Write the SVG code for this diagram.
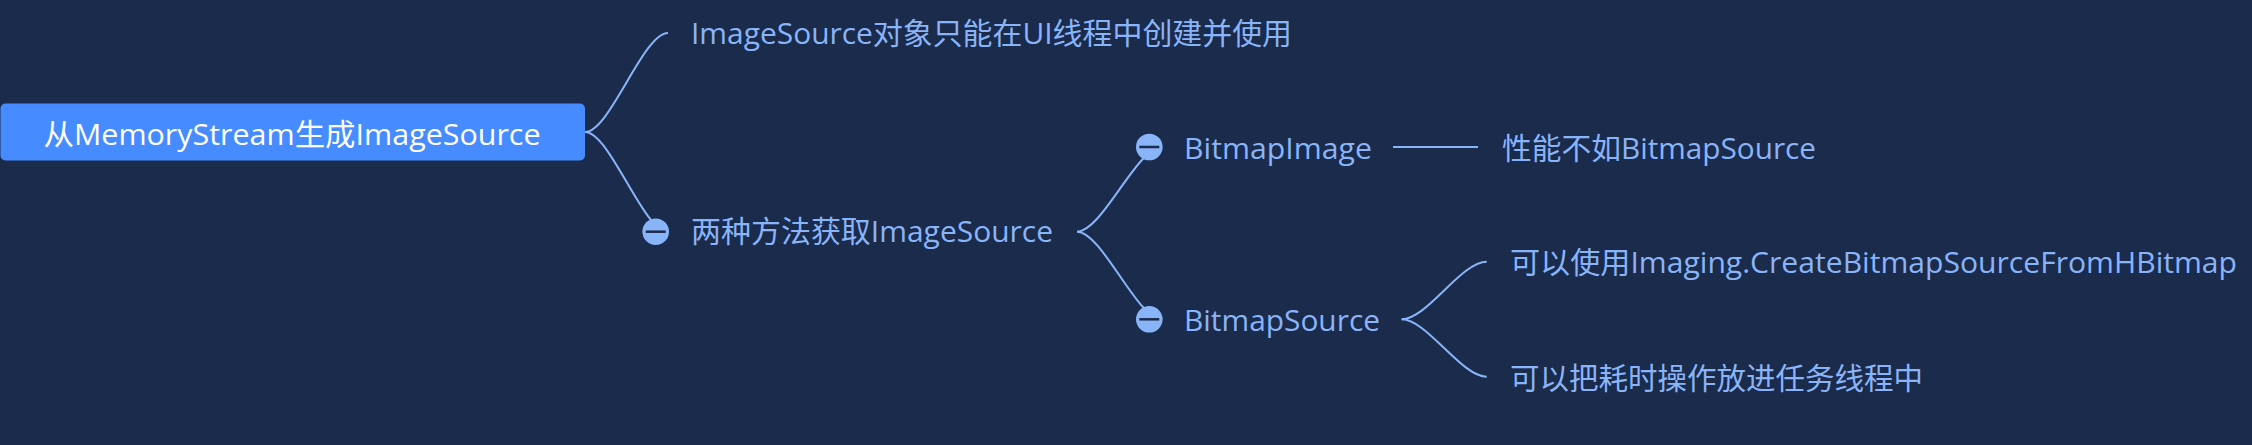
<svg xmlns="http://www.w3.org/2000/svg" width="2252" height="445" viewBox="0 0 2252 445">
<style>
.bg{fill:#1a2b4c}
.t{font-family:"Open Sans","Noto Sans CJK SC",sans-serif;font-size:29.5px;fill:#8ab4f8}
.rt{fill:#ffffff}
.c{fill:none;stroke:#8ab4f8;stroke-width:2}
.dot{fill:#8ab4f8}
.bar{stroke:#1a2b4c;stroke-width:2.5}
</style>
<rect class="bg" x="0" y="0" width="2252" height="445"/>
<g id="connectors">
<path class="c" d="M585,132 C610,132 643,33 668,33"/>
<path class="c" d="M585,132 C610,132 643,231.7 668,231.7"/>
<path class="c" d="M1077,231.7 C1102,231.7 1137,147 1162,147"/>
<path class="c" d="M1077,231.7 C1102,231.7 1137,319.3 1162,319.3"/>
<path class="c" d="M1393,147 H1478"/>
<path class="c" d="M1401.7,319.3 C1427,319.3 1461,261.7 1486.7,261.7"/>
<path class="c" d="M1401.7,319.3 C1427,319.3 1461,376.7 1486.7,376.7"/>
</g>
<g id="root">
<rect x="0.5" y="103.5" width="584.5" height="57" rx="5" fill="#468bff"/>
<text class="t rt" x="292" y="144.5" text-anchor="middle" textLength="497" lengthAdjust="spacingAndGlyphs">从MemoryStream生成ImageSource</text>
</g>
<g id="node-ui-thread">
<text class="t" x="691" y="43.5" textLength="601" lengthAdjust="spacingAndGlyphs">ImageSource对象只能在UI线程中创建并使用</text>
</g>
<g id="node-two-ways">
<circle class="dot" cx="655.7" cy="231.7" r="13.3"/>
<line class="bar" x1="645.7" y1="231.7" x2="665.7" y2="231.7"/>
<text class="t" x="691" y="242" textLength="362" lengthAdjust="spacingAndGlyphs">两种方法获取ImageSource</text>
</g>
<g id="node-bitmapimage">
<circle class="dot" cx="1149.3" cy="147" r="13.3"/>
<line class="bar" x1="1139.3" y1="147" x2="1159.3" y2="147"/>
<text class="t" x="1184" y="158.5" textLength="188" lengthAdjust="spacingAndGlyphs">BitmapImage</text>
</g>
<g id="node-bitmapsource">
<circle class="dot" cx="1149.3" cy="319.3" r="13.3"/>
<line class="bar" x1="1139.3" y1="319.3" x2="1159.3" y2="319.3"/>
<text class="t" x="1184" y="331" textLength="196" lengthAdjust="spacingAndGlyphs">BitmapSource</text>
</g>
<g id="node-perf">
<text class="t" x="1502" y="158.5" textLength="314" lengthAdjust="spacingAndGlyphs">性能不如BitmapSource</text>
</g>
<g id="node-imaging">
<text class="t" x="1510" y="272.5" textLength="727" lengthAdjust="spacingAndGlyphs">可以使用Imaging.CreateBitmapSourceFromHBitmap</text>
</g>
<g id="node-task-thread">
<text class="t" x="1510" y="388.5" textLength="413" lengthAdjust="spacingAndGlyphs">可以把耗时操作放进任务线程中</text>
</g>
</svg>
